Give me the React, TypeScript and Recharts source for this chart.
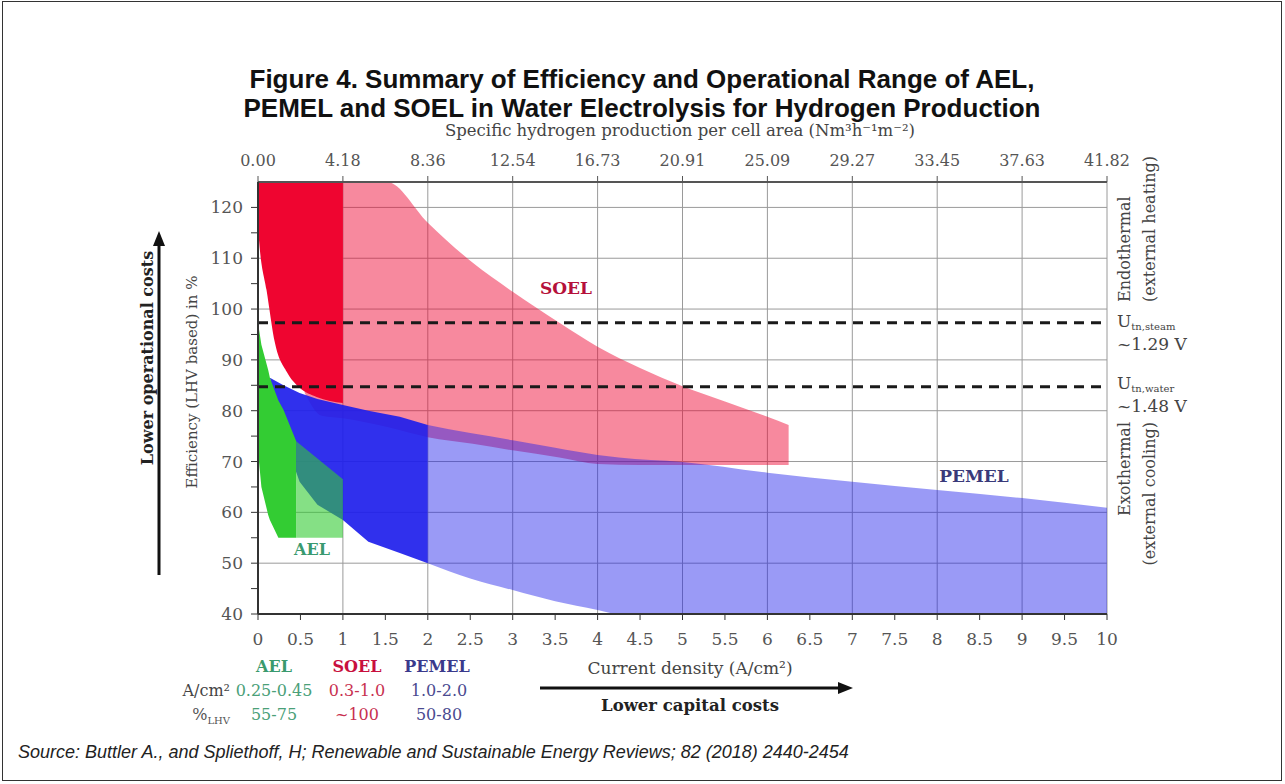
import React from 'react';
import { ComposedChart, Area, Line, XAxis, YAxis, CartesianGrid } from 'recharts';

// ---- Data (x = current density in A/cm², values = efficiency % LHV) ----
const soelWideX = [0.55, 0.75, 1, 1.52, 2, 2.53, 3, 3.55, 4, 4.5, 5, 5.5, 6, 6.25];
const soelWideLow = [83.5, 79, 78.5, 76.8, 74.8, 73.5, 72.2, 70.8, 69.5, 69.3, 69.3, 69.3, 69.3, 69.3];
const soelWideHigh = [125, 125, 125, 125, 117, 109.1, 103.4, 97.3, 92.6, 88.4, 84.8, 81.8, 78.8, 77.2];

const soelCoreX = [0, 0.02, 0.1, 0.2, 0.34, 0.49, 0.69, 1];
const soelCoreLow = [116, 112, 103.8, 93.3, 87.6, 84.5, 82.7, 81.5];
const soelCoreHigh = [125, 125, 125, 125, 125, 125, 125, 125];

const pemelCoreX = [0.14, 0.3, 0.49, 0.7, 1, 1.3, 1.67, 2];
const pemelCoreLow = [86.5, 75, 66, 61.5, 58.5, 54.2, 52, 50];
const pemelCoreHigh = [86.5, 85, 83.5, 82.3, 81.1, 80, 78.8, 77.2];

const pemelWideX = [2, 2.5, 3, 3.5, 4, 4.25, 5, 6, 7, 8, 9, 10];
const pemelWideLow = [50, 47, 44.7, 42.5, 40.8, 40, 40, 40, 40, 40, 40, 40];
const pemelWideHigh = [77.2, 75.6, 74.2, 72.7, 71.3, 70.8, 69.9, 67.8, 66, 64.4, 62.8, 60.9];

const aelCoreX = [0, 0.04, 0.12, 0.14, 0.24, 0.3, 0.45];
const aelCoreLow = [72, 65, 59.5, 58.5, 55, 55, 55];
const aelCoreHigh = [97.3, 93, 88, 86.5, 82, 80.2, 74];

const aelWideX = [0.45, 1];
const aelWideLow = [55, 55];
const aelWideHigh = [74, 66.5];

const utnSteam = 97.3;
const utnWater = 84.7;
const lineX = [0, 10];

const bottomTicks = [0, 0.5, 1, 1.5, 2, 2.5, 3, 3.5, 4, 4.5, 5, 5.5, 6, 6.5, 7, 7.5, 8, 8.5, 9, 9.5, 10];
const topTicks = [0, 1, 2, 3, 4, 5, 6, 7, 8, 9, 10];
const topLabels = ['0.00', '4.18', '8.36', '12.54', '16.73', '20.91', '25.09', '29.27', '33.45', '37.63', '41.82'];
const yTicks = [40, 45, 50, 55, 60, 65, 70, 75, 80, 85, 90, 95, 100, 105, 110, 115, 120];
const gridY = [50, 60, 70, 80, 90, 100, 110, 120, 125];
const gridX = [0, 1, 2, 3, 4, 5, 6, 7, 8, 9, 10];

// ---- Build chart table ----
const region = (key: string, xs: number[], lo: number[], hi: number[]) =>
  xs.map((x, i) => ({ x, [key]: [lo[i], hi[i]] }));

const rows: any[] = [
  ...region('soelWide', soelWideX, soelWideLow, soelWideHigh),
  ...region('soelCore', soelCoreX, soelCoreLow, soelCoreHigh),
  ...region('pemelCore', pemelCoreX, pemelCoreLow, pemelCoreHigh),
  ...region('pemelWide', pemelWideX, pemelWideLow, pemelWideHigh),
  ...region('aelCore', aelCoreX, aelCoreLow, aelCoreHigh),
  ...region('aelWide', aelWideX, aelWideLow, aelWideHigh),
  ...lineX.map((x) => ({ x, steam: utnSteam })),
  ...lineX.map((x) => ({ x, water: utnWater })),
];

const SERIF = '"DejaVu Serif", serif';
const SANS = '"Liberation Sans", Arial, sans-serif';
const RED = '#EF0530';
const BLUE = '#1E1EEB';
const GREEN = '#33CC33';

export default function App() {
  const tickStyle = { fontFamily: SERIF, fontSize: 17, fill: '#555' };
  return (
    <div style={{ position: 'absolute', left: 0, top: 0, width: 1285, height: 784, background: '#fff' }}>
      <div
        style={{
          position: 'absolute', left: 2, top: 1, width: 1280, height: 780,
          border: '1.5px solid #333', boxSizing: 'border-box',
        }}
      />
      <div style={{ position: 'absolute', left: 0, top: 0 }}>
        <ComposedChart width={1285} height={784} data={rows} margin={{ top: 152, right: 178, bottom: 140, left: 198 }}>
          <CartesianGrid stroke="#9a9a9a" strokeWidth={1} horizontalValues={gridY} verticalValues={gridX} />
          <XAxis
            dataKey="x" type="number" domain={[0, 10]} ticks={bottomTicks} allowDataOverflow
            height={30} tickSize={6} tickMargin={13} interval={0}
            tickFormatter={(v: number) => String(v)}
            tick={tickStyle} stroke="#333" axisLine={{ stroke: '#333', strokeWidth: 2 }}
          />
          <XAxis
            xAxisId="top" orientation="top" dataKey="x" type="number" domain={[0, 10]} ticks={topTicks}
            allowDataOverflow height={30} tickSize={6} tickMargin={10} interval={0}
            tickFormatter={(v: number) => topLabels[v]}
            tick={{ ...tickStyle, fontSize: 16 }} stroke="#555" axisLine={{ stroke: '#555', strokeWidth: 2 }}
          />
          <YAxis
            type="number" domain={[40, 125]} ticks={yTicks} allowDataOverflow width={60}
            tickSize={7} tickMargin={8} interval={0}
            tickFormatter={(v: number) => (v % 10 === 0 ? String(v) : '')}
            tick={tickStyle} stroke="#333" axisLine={{ stroke: '#333', strokeWidth: 2 }}
          />
          <Area dataKey={(d: any) => d.soelWide} type="monotone" connectNulls stroke="none" fill={RED} fillOpacity={0.47} dot={false} activeDot={false} isAnimationActive={false} />
          <Area dataKey={(d: any) => d.pemelWide} type="monotone" connectNulls stroke="none" fill={BLUE} fillOpacity={0.45} dot={false} activeDot={false} isAnimationActive={false} />
          <Area dataKey={(d: any) => d.pemelCore} type="linear" connectNulls stroke="none" fill={BLUE} fillOpacity={0.92} dot={false} activeDot={false} isAnimationActive={false} />
          <Area dataKey={(d: any) => d.soelCore} type="monotone" connectNulls stroke="none" fill={RED} fillOpacity={1} dot={false} activeDot={false} isAnimationActive={false} />
          <Line dataKey="steam" type="linear" connectNulls stroke="#1a1a1a" strokeWidth={3} strokeDasharray="10 7" dot={false} activeDot={false} isAnimationActive={false} />
          <Line dataKey="water" type="linear" connectNulls stroke="#1a1a1a" strokeWidth={3} strokeDasharray="10 7" dot={false} activeDot={false} isAnimationActive={false} />
          <Area dataKey={(d: any) => d.aelCore} type="linear" connectNulls stroke="none" fill={GREEN} fillOpacity={1} dot={false} activeDot={false} isAnimationActive={false} />
          <Area dataKey={(d: any) => d.aelWide} type="linear" connectNulls stroke="none" fill={GREEN} fillOpacity={0.6} dot={false} activeDot={false} isAnimationActive={false} />
        </ComposedChart>
      </div>
      <svg width={1285} height={784} style={{ position: 'absolute', left: 0, top: 0, pointerEvents: 'none' }}>
        {/* Title */}
        <text x={642} y={88} textAnchor="middle" fontFamily={SANS} fontWeight="bold" fontSize={26} fill="#111">
          Figure 4. Summary of Efficiency and Operational Range of AEL,
        </text>
        <text x={642} y={117} textAnchor="middle" fontFamily={SANS} fontWeight="bold" fontSize={26} fill="#111">
          PEMEL and SOEL in Water Electrolysis for Hydrogen Production
        </text>
        {/* Top axis title */}
        <text x={680} y={136} textAnchor="middle" fontFamily={SERIF} fontSize={16.5} fill="#444">
          Specific hydrogen production per cell area (Nm³h⁻¹m⁻²)
        </text>
        {/* Left labels */}
        <text transform="rotate(-90 193 382)" x={193} y={382} textAnchor="middle" dominantBaseline="middle" fontFamily={SERIF} fontSize={15} fill="#444">
          Efficiency (LHV based) in %
        </text>
        <text transform="rotate(-90 148 358)" x={148} y={358} textAnchor="middle" dominantBaseline="middle" fontFamily={SERIF} fontWeight="bold" fontSize={16} fill="#222">
          Lower operational costs
        </text>
        <line x1={159} y1={575} x2={159} y2={244} stroke="#111" strokeWidth={3} />
        <polygon points="159,231 153,246 165,246" fill="#111" />
        {/* Bottom labels */}
        <text x={690} y={674} textAnchor="middle" fontFamily={SERIF} fontSize={17} fill="#444">
          Current density (A/cm²)
        </text>
        <line x1={540} y1={688} x2={840} y2={688} stroke="#111" strokeWidth={3} />
        <polygon points="853,688 838,682 838,694" fill="#111" />
        <text x={690} y={711} textAnchor="middle" fontFamily={SERIF} fontWeight="bold" fontSize={16.5} fill="#222">
          Lower capital costs
        </text>
        {/* Table */}
        <g fontFamily={SERIF} fontSize={16}>
          <text x={274} y={672} textAnchor="middle" fontWeight="bold" fill="#3A9A6E">AEL</text>
          <text x={357} y={672} textAnchor="middle" fontWeight="bold" fill="#C8103E">SOEL</text>
          <text x={437} y={672} textAnchor="middle" fontWeight="bold" fill="#3A3A8C">PEMEL</text>
          <text x={230} y={696} textAnchor="end" fill="#444">A/cm²</text>
          <text x={274} y={696} textAnchor="middle" fill="#4AA078">0.25-0.45</text>
          <text x={357} y={696} textAnchor="middle" fill="#C83050">0.3-1.0</text>
          <text x={439} y={696} textAnchor="middle" fill="#4A4A90">1.0-2.0</text>
          <text x={230} y={720} textAnchor="end" fill="#555">
            %<tspan fontSize={10} dy={4}>LHV</tspan>
          </text>
          <text x={274} y={720} textAnchor="middle" fill="#4AA078">55-75</text>
          <text x={357} y={720} textAnchor="middle" fill="#C83050">~100</text>
          <text x={439} y={720} textAnchor="middle" fill="#4A4A90">50-80</text>
        </g>
        {/* In-plot labels */}
        <text x={566} y={294} textAnchor="middle" fontFamily={SERIF} fontWeight="bold" fontSize={17} fill="#B5103A">SOEL</text>
        <text x={974} y={482} textAnchor="middle" fontFamily={SERIF} fontWeight="bold" fontSize={17} fill="#3A3A7A">PEMEL</text>
        <text x={312} y={555} textAnchor="middle" fontFamily={SERIF} fontWeight="bold" fontSize={16} fill="#3A9A70">AEL</text>
        {/* Right side labels */}
        <g fontFamily={SERIF} fontSize={16} fill="#444">
          <text transform="rotate(-90 1125 302)" x={1125} y={302} textAnchor="start" dominantBaseline="middle">Endothermal</text>
          <text transform="rotate(-90 1150 302)" x={1150} y={302} textAnchor="start" dominantBaseline="middle">(external heating)</text>
          <text transform="rotate(-90 1125 422)" x={1125} y={422} textAnchor="end" dominantBaseline="middle">Exothermal</text>
          <text transform="rotate(-90 1150 422)" x={1150} y={422} textAnchor="end" dominantBaseline="middle">(external cooling)</text>
          <text x={1117} y={327} fontSize={17}>U<tspan fontSize={10} dy={3}>tn,steam</tspan></text>
          <text x={1117} y={350} fontSize={17}>~1.29 V</text>
          <text x={1117} y={389} fontSize={17}>U<tspan fontSize={10} dy={3}>tn,water</tspan></text>
          <text x={1117} y={412} fontSize={17}>~1.48 V</text>
        </g>
        {/* Source */}
        <text x={18} y={758} fontFamily={SANS} fontStyle="italic" fontSize={18} fill="#222">
          Source: Buttler A., and Spliethoff, H; Renewable and Sustainable Energy Reviews; 82 (2018) 2440-2454
        </text>
      </svg>
    </div>
  );
}
